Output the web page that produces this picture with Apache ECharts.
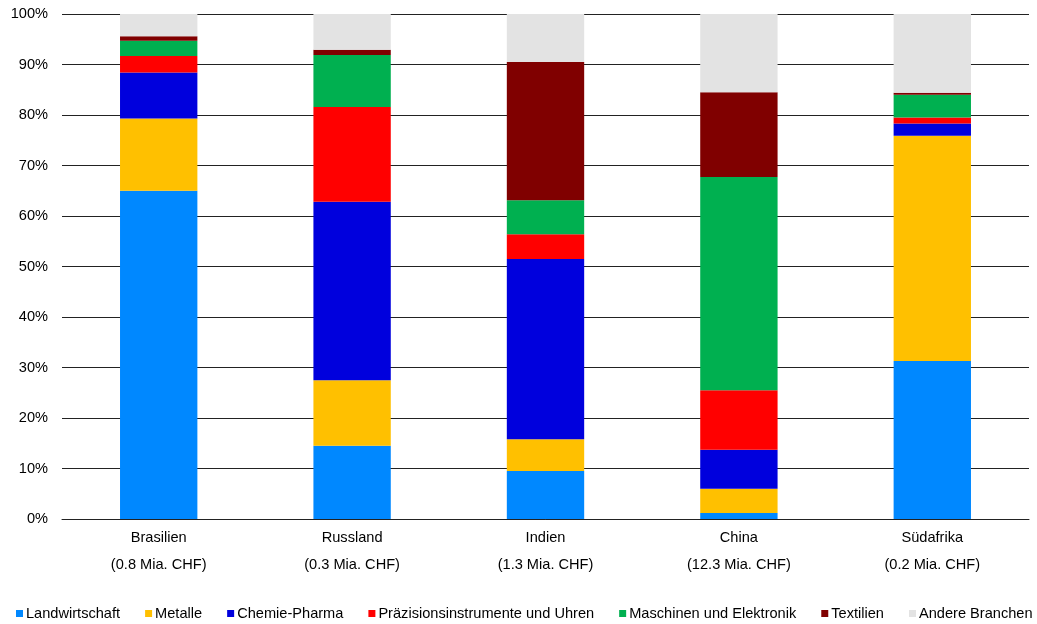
<!DOCTYPE html>
<html>
<head>
<meta charset="utf-8">
<script src="https://cdn.jsdelivr.net/npm/echarts@6/dist/echarts.min.js"></script>
<style>html,body{margin:0;padding:0;background:#fff}#c{width:1037px;height:624px}</style>
</head>
<body>
<div id="c"></div>
<script>
const categories = ['Brasilien\n(0.8 Mia. CHF)', 'Russland\n(0.3 Mia. CHF)', 'Indien\n(1.3 Mia. CHF)', 'China\n(12.3 Mia. CHF)', 'Südafrika\n(0.2 Mia. CHF)'];
const seriesNames = ['Landwirtschaft', 'Metalle', 'Chemie-Pharma', 'Präzisionsinstrumente und Uhren', 'Maschinen und Elektronik', 'Textilien', 'Andere Branchen'];
const landwirtschaft = [65.0, 14.5, 9.5, 1.2, 31.3];
const metalle = [14.3, 13.0, 6.3, 4.8, 44.6];
const chemiePharma = [9.1, 35.3, 35.7, 7.7, 2.4];
const praezision = [3.3, 18.8, 4.9, 11.8, 1.2];
const maschinen = [3.0, 10.3, 6.7, 42.2, 4.5];
const textilien = [0.9, 1.0, 27.4, 16.8, 0.4];
const andere = [4.4, 7.1, 9.5, 15.5, 15.6];
const yTicks = [0, 10, 20, 30, 40, 50, 60, 70, 80, 90, 100];
const colors = ['#0088FF', '#FFC000', '#0000DD', '#FF0000', '#00B050', '#800000', '#E3E3E3'];

const allData = [landwirtschaft, metalle, chemiePharma, praezision, maschinen, textilien, andere];
const font = '"Liberation Sans", Arial, sans-serif';
const fs = 14.6;

const chart = echarts.init(document.getElementById('c'), null, {renderer: 'canvas'});
chart.setOption({
  animation: false,
  color: colors,
  grid: {left: 62, right: 8, top: 14, bottom: 105, containLabel: false},
  legend: {
    bottom: 3, left: 16, padding: 0,
    itemWidth: 7, itemHeight: 7, itemGap: 25,
    icon: 'rect',
    textStyle: {fontFamily: font, fontSize: fs, color: '#000', padding: [0, 0, 0, -2]},
    data: seriesNames
  },
  xAxis: {
    type: 'category',
    data: categories,
    axisTick: {show: false},
    axisLine: {show: true, lineStyle: {color: '#222', width: 1}},
    axisLabel: {fontFamily: font, fontSize: fs, color: '#000', lineHeight: 27, margin: 5}
  },
  yAxis: {
    type: 'value', min: yTicks[0], max: yTicks[yTicks.length - 1], interval: 10,
    axisLine: {show: false}, axisTick: {show: false},
    splitLine: {show: true, lineStyle: {color: '#222', width: 1}},
    axisLabel: {fontFamily: font, fontSize: fs, color: '#000', margin: 14, formatter: v => v + '%'}
  },
  series: seriesNames.map((n, i) => ({
    name: n, type: 'bar', stack: 'total', barWidth: '40%',
    data: allData[i], itemStyle: {color: colors[i]}
  }))
});
</script>
</body>
</html>
